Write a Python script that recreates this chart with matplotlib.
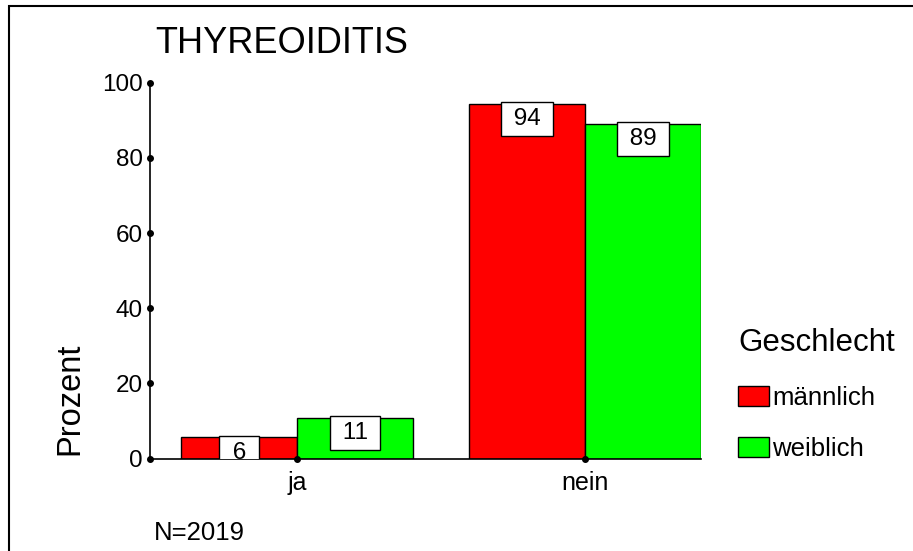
import matplotlib
matplotlib.use("Agg")
import matplotlib.pyplot as plt
from matplotlib.patches import Rectangle, Patch
import numpy as np

plt.rcParams['font.family'] = ['Liberation Sans', 'DejaVu Sans']

categories = ["ja", "nein"]
series_names = ["männlich", "weiblich"]
maennlich = [5.6, 94.4]
weiblich = [10.9, 89.1]
labels_m = ["6", "94"]
labels_w = ["11", "89"]
colors = ["#FF0000", "#00FF00"]
yticks = [0, 20, 40, 60, 80, 100]

W, H = 913, 551
fig = plt.figure(figsize=(W / 100, H / 100), dpi=100)
ax = fig.add_axes([150 / W, (H - 458.5) / H, 551 / W, 375.8 / H])

x = np.arange(len(categories))
bw = 116 / 288
ax.bar(x - bw / 2, maennlich, bw, color=colors[0], edgecolor="black", linewidth=1, zorder=2)
ax.bar(x + bw / 2, weiblich, bw, color=colors[1], edgecolor="black", linewidth=1, zorder=2)

ax.set_xlim(-147 / 288, 1 + 116 / 288)
ax.set_ylim(0, 100)

for xs, vals, labs in [(x - bw / 2, maennlich, labels_m), (x + bw / 2, weiblich, labels_w)]:
    for xi, v, lab in zip(xs, vals, labs):
        ax.annotate(f" {lab} ", xy=(xi, v), xytext=(0, -3), textcoords="offset points",
                    ha="center", va="top", fontsize=17.5, zorder=5, annotation_clip=False,
                    bbox=dict(boxstyle="square,pad=0.25", facecolor="white", edgecolor="black", linewidth=1),
                    clip_on=True)

for s in ["top", "right"]:
    ax.spines[s].set_visible(False)
ax.spines["left"].set_linewidth(1.2)
ax.spines["bottom"].set_linewidth(1.2)
ax.set_yticks(yticks)
ax.set_yticklabels([str(t) for t in yticks], fontsize=17.5)
ax.set_xticks(x)
ax.set_xticklabels(categories, fontsize=18)
ax.tick_params(axis="y", length=0, pad=5)
ax.tick_params(axis="x", length=0, pad=9)

# tick dots
xl = ax.get_xlim()
ax.plot([xl[0]] * len(yticks), yticks, "o", color="black", ms=4, clip_on=False, zorder=6)
ax.plot(x, [0] * len(x), "o", color="black", ms=4, clip_on=False, zorder=6)

# legend
handles = [Patch(facecolor=c, edgecolor="black", linewidth=1) for c in colors]
leg = fig.legend(handles, series_names, loc="upper left", bbox_to_anchor=(728 / W, 1 - 318 / H),
                 frameon=False, fontsize=18.5, title="Geschlecht", title_fontsize=22.5,
                 handlelength=1.2, handleheight=0.8, handletextpad=0.12,
                 labelspacing=1.05, borderaxespad=0, alignment="left")
leg._legend_box.sep = 20

fig.text(155 / W, 1 - 53 / H, "THYREOIDITIS", fontsize=26, va="baseline", ha="left")
fig.text(70 / W, 1 - 455 / H, "Prozent", fontsize=23.5, rotation=90, ha="center", va="bottom")
fig.text(154 / W, 1 - 540 / H, "N=2019", fontsize=18.5, ha="left", va="baseline")

fig.add_artist(Rectangle((9 / W, -0.1), 2, 1 - 6 / H + 0.1, transform=fig.transFigure,
                         fill=False, edgecolor="black", linewidth=1.5))

fig.savefig("out.png", dpi=100)
